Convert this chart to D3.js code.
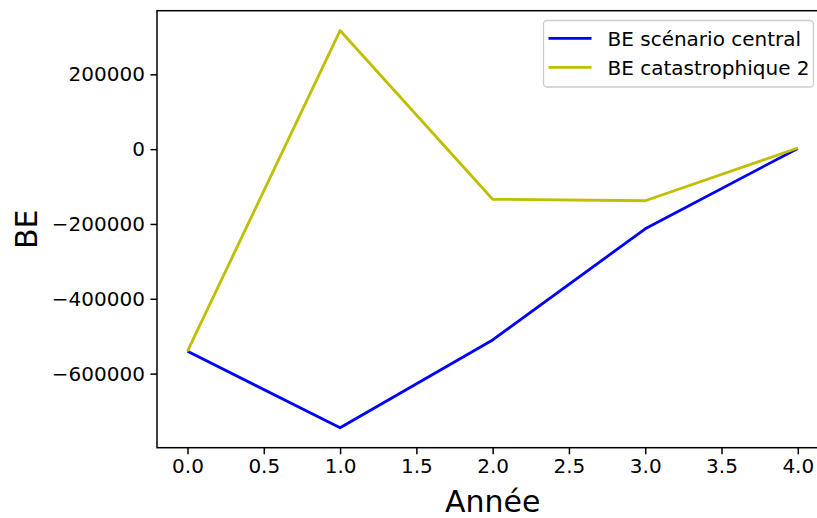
<!DOCTYPE html>
<html>
<head>
<meta charset="utf-8">
<script src="https://cdn.jsdelivr.net/npm/d3@7"></script>
<style>
  html, body { margin: 0; padding: 0; background: #fff; }
  svg { display: block; font-family: "DejaVu Sans", sans-serif; }
</style>
</head>
<body>
<svg id="chart" width="817" height="518"></svg>
<script>
// Années et valeurs de BE par scénario
const years = [0, 1, 2, 3, 4];
const beCentral = [-540000, -745000, -510000, -213000, 2000];
const beCatastrophique2 = [-540000, 317000, -134000, -138000, 3000];
const seriesNames = ["BE scénario central", "BE catastrophique 2"];
const seriesColors = ["#0000ff", "#bfbf00"];
const xTicks = [0, 0.5, 1, 1.5, 2, 2.5, 3, 3.5, 4];
const yTicks = [-600000, -400000, -200000, 0, 200000];

const series = [
  { name: seriesNames[0], color: seriesColors[0], values: beCentral },
  { name: seriesNames[1], color: seriesColors[1], values: beCatastrophique2 }
];

const svg = d3.select("#chart");
const plot = { left: 157, right: 828.3, top: 10.7, bottom: 447.7 };

// x: 5 % de marge de chaque côté
const xPad = (d3.max(years) - d3.min(years)) * 0.05;
const x = d3.scaleLinear()
  .domain([d3.min(years) - xPad, d3.max(years) + xPad])
  .range([plot.left, plot.right]);

const allVals = beCentral.concat(beCatastrophique2);
const yMin = d3.min(allVals), yMax = d3.max(allVals);
const yPad = (yMax - yMin) * 0.05;
const y = d3.scaleLinear()
  .domain([yMin - yPad, yMax + yPad])
  .range([plot.bottom, plot.top]);

const tickFont = 20;

// Axe x
const xAxis = d3.axisBottom(x)
  .tickValues(xTicks)
  .tickFormat(d3.format(".1f"))
  .tickSize(6.6)
  .tickPadding(4.5);
const gx = svg.append("g")
  .attr("transform", `translate(0,${plot.bottom})`)
  .call(xAxis);
gx.select(".domain").remove();
gx.selectAll(".tick line").attr("stroke", "#000").attr("stroke-width", 1.5);
gx.selectAll(".tick text").attr("font-size", tickFont).attr("fill", "#000")
  .attr("font-family", "DejaVu Sans");

// Axe y
const fmtY = d => (d < 0 ? "\u2212" : "") + Math.abs(d).toString();
const yAxis = d3.axisLeft(y)
  .tickValues(yTicks)
  .tickFormat(fmtY)
  .tickSize(6.6)
  .tickPadding(5.5);
const gy = svg.append("g")
  .attr("transform", `translate(${plot.left},0)`)
  .call(yAxis);
gy.select(".domain").remove();
gy.selectAll(".tick line").attr("stroke", "#000").attr("stroke-width", 1.5);
gy.selectAll(".tick text").attr("font-size", tickFont).attr("fill", "#000")
  .attr("font-family", "DejaVu Sans");

// Courbes
const line = d3.line()
  .x((d, i) => x(years[i]))
  .y(d => y(d));

svg.append("g")
  .selectAll("path")
  .data(series)
  .join("path")
  .attr("d", d => line(d.values))
  .attr("fill", "none")
  .attr("stroke", d => d.color)
  .attr("stroke-width", 2.8)
  .attr("stroke-linejoin", "round")
  .attr("stroke-linecap", "butt");

// Cadre du graphique
svg.append("rect")
  .attr("x", plot.left)
  .attr("y", plot.top)
  .attr("width", plot.right - plot.left)
  .attr("height", plot.bottom - plot.top)
  .attr("fill", "none")
  .attr("stroke", "#000")
  .attr("stroke-width", 1.5);

// Titres des axes
svg.append("text")
  .attr("x", (plot.left + plot.right) / 2)
  .attr("y", 512)
  .attr("text-anchor", "middle")
  .attr("font-size", 30)
  .attr("fill", "#000")
  .text("Année");

svg.append("text")
  .attr("transform", `translate(37,${(plot.top + plot.bottom) / 2}) rotate(-90)`)
  .attr("text-anchor", "middle")
  .attr("font-size", 30)
  .attr("fill", "#000")
  .text("BE");

// Légende
const legend = svg.append("g").attr("transform", "translate(543.5,20.5)");
legend.append("rect")
  .attr("width", 270)
  .attr("height", 66.5)
  .attr("rx", 3.5)
  .attr("fill", "#fff")
  .attr("fill-opacity", 0.8)
  .attr("stroke", "#cccccc")
  .attr("stroke-width", 1.3);

const rows = legend.selectAll("g.row")
  .data(series)
  .join("g")
  .attr("class", "row")
  .attr("transform", (d, i) => `translate(0,${17.8 + i * 29})`);

rows.append("line")
  .attr("x1", 5).attr("x2", 48)
  .attr("y1", 0).attr("y2", 0)
  .attr("stroke", d => d.color)
  .attr("stroke-width", 2.8);

rows.append("text")
  .attr("x", 64)
  .attr("y", 0)
  .attr("dy", "0.36em")
  .attr("font-size", tickFont)
  .attr("fill", "#000")
  .text(d => d.name);
</script>
</body>
</html>
